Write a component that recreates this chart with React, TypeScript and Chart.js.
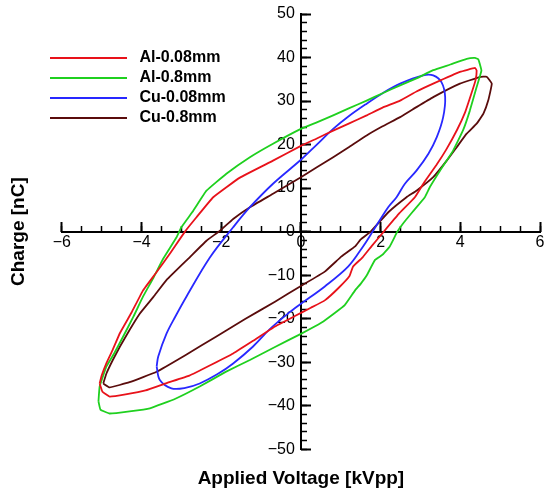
import { useEffect, useRef } from 'react';
import { Chart, registerables } from 'chart.js';

Chart.register(...registerables);
Chart.defaults.font.family = "'Liberation Sans', Arial, sans-serif";
Chart.defaults.color = '#000';

// series
const seriesNames = ['Al-0.08mm', 'Al-0.8mm', 'Cu-0.08mm', 'Cu-0.8mm'];
const seriesColors = ['#e8121a', '#1fd01f', '#2828ff', '#5a0c0c'];

// Al-0.08mm loop (kVpp, nC)
const al008X = [
  -5.05, -4.98, -4.8, -4.4, -3.9, -3.37, -2.8, -2.25, -1.7, -1.2, -0.65, -0.15, 0.25, 0.6, 0.95,
  1.22, 1.31, 1.55, 1.77, 2.08, 2.45, 2.86, 3.1, 3.4, 3.65, 3.92, 4.12, 4.27, 4.38, 4.41, 4.37,
  3.99, 3.32, 2.9, 2.49, 2.05, 1.65, 1.2, 0.81, 0.4, 0, -0.7, -1.53, -2.2, -2.62, -2.91, -3.29,
  -3.62, -3.96, -4.25, -4.54, -4.72, -4.88, -5.0, -5.05,
];
const al008Y = [
  -34.9, -36.8, -37.9, -37.4, -36.5, -34.8, -33.1, -30.6, -28.0, -25.1, -21.8, -19.4, -17.5, -15.8, -12.9,
  -10.2, -8.0, -5.9, -3.4, 0.0, 4.0, 7.9, 11.4, 15.3, 18.9, 23.4, 27.4, 31.5, 34.7, 37.0, 37.6,
  36.7, 34.0, 32.2, 30.1, 28.5, 26.7, 24.8, 23.2, 21.4, 19.7, 16.3, 12.4, 7.9, 3.3, 0.0, -5.1,
  -9.3, -13.5, -18.6, -23.3, -27.1, -30.2, -33.1, -34.9,
];

// Al-0.8mm loop
const al08X = [
  -5.08, -5.03, -4.8, -4.3, -3.79, -3.15, -2.54, -1.9, -1.28, -0.65, 0, 0.52, 0.85, 1.1, 1.36,
  1.5, 1.65, 1.86, 2.05, 2.23, 2.42, 2.55, 2.8, 3.11, 3.24, 3.49, 3.82, 4.07, 4.24, 4.41, 4.53,
  4.49, 4.45, 4.37, 4.16, 3.75, 3.32, 2.9, 2.49, 2.05, 1.65, 1.2, 0.81, 0.4, 0, -0.7, -1.28,
  -1.87, -2.37, -2.7, -3.0, -3.12, -3.46, -3.7, -3.96, -4.2, -4.46, -4.68, -4.88, -5.05, -5.08,
];
const al08Y = [
  -39.0, -40.9, -41.8, -41.3, -40.6, -38.4, -35.6, -32.3, -29.5, -26.5, -23.5, -20.9, -18.7, -16.9, -13.5,
  -12.0, -10.1, -6.5, -5.3, -3.4, 0.0, 1.7, 4.5, 7.9, 10.3, 14.0, 18.6, 23.3, 27.8, 33.2, 37.0,
  38.5, 39.6, 39.9, 39.7, 38.4, 37.1, 35.2, 33.6, 31.8, 30.1, 28.3, 26.7, 25.1, 23.6, 20.2, 17.1,
  13.3, 9.4, 4.8, 1.0, -1.3, -6.3, -10.6, -14.9, -19.5, -24.1, -27.9, -31.0, -35.6, -39.0,
];

// Cu-0.08mm loop
const cu008X = [
  -3.62, -3.54, -3.25, -2.9, -2.54, -2.1, -1.7, -1.2, -0.78, -0.32, 0, 0.6, 1.19, 1.56, 1.8,
  2.19, 2.4, 2.61, 2.9, 3.2, 3.41, 3.57, 3.62, 3.53, 3.32, 3.07, 2.49, 2.05, 1.65, 1.2, 0.81,
  0.4, 0, -0.7, -1.28, -1.7, -2.28, -2.87, -3.15, -3.37, -3.58, -3.62,
];
const cu008Y = [
  -31.0, -34.1, -36.0, -35.9, -34.9, -32.8, -30.3, -26.4, -22.4, -18.8, -16.6, -12.6, -8.0, -3.4, 0.0,
  5.6, 7.9, 11.0, 14.0, 17.9, 21.7, 26.3, 30.9, 34.3, 35.9, 35.9, 34.0, 31.8, 29.4, 26.5, 23.6,
  20.0, 16.5, 11.0, 5.6, 1.0, -5.9, -14.9, -19.5, -23.4, -28.7, -31.0,
];

// Cu-0.8mm loop
const cu08X = [
  -4.96, -4.8, -4.3, -3.62, -2.9, -2.12, -1.4, -0.65, 0, 0.6, 1.02, 1.36, 1.5, 1.75, 2.2,
  2.65, 2.9, 3.32, 3.66, 3.91, 4.16, 4.41, 4.58, 4.7, 4.79, 4.66, 4.49, 3.99, 3.32, 2.9, 2.49,
  2.05, 1.65, 1.2, 0.81, 0.4, 0, -0.7, -1.28, -1.7, -2.03, -2.37, -2.79, -3.37, -3.7, -4.04,
  -4.3, -4.54, -4.72, -4.88, -4.96,
];
const cu08Y = [
  -34.9, -35.8, -34.6, -32.2, -28.4, -24.1, -20.1, -16.1, -12.5, -9.2, -5.7, -3.4, -1.8, 0.0, 4.5,
  7.9, 9.4, 12.5, 16.3, 19.4, 22.5, 24.8, 27.1, 30.1, 34.0, 35.6, 35.5, 34.0, 30.9, 28.6, 26.3,
  24.2, 22.1, 19.4, 17.1, 14.8, 12.5, 8.7, 5.6, 2.9, 0.2, -2.1, -5.9, -11.1, -15.0, -18.8,
  -22.6, -26.4, -29.5, -32.6, -34.9,
];

// axes
const xMajorTicks = [-6, -4, -2, 0, 2, 4, 6];
const yMajorTicks = [-50, -40, -30, -20, -10, 0, 10, 20, 30, 40, 50];
const xMinorStep = 0.5;
const yMinorStep = 2;
const xTitle = 'Applied Voltage [kVpp]';
const yTitle = 'Charge [nC]';

const toPoints = (xs: number[], ys: number[]) => xs.map((x, i) => ({ x, y: ys[i] }));
const loops = [toPoints(al008X, al008Y), toPoints(al08X, al08Y), toPoints(cu008X, cu008Y), toPoints(cu08X, cu08Y)];

const minus = (v: number) => (v < 0 ? '\u2212' + Math.abs(v) : String(v));

// legend sits inside the plot, a little left of the frame
const legendPlacer = {
  id: 'legendPlacer',
  afterLayout(chart: any) {
    const legend = chart.legend;
    if (!legend) return;
    const w = legend.width;
    const h = legend.height;
    legend.left = 46;
    legend.top = 46;
    legend.right = legend.left + w;
    legend.bottom = legend.top + h;
  },
};

// tick-mark-only axis, stacked on the labelled one (ticks point into the plot)
const markAxis = (axis: 'x' | 'y', min: number, max: number, length: number, width: number, extra: object) => ({
  type: 'linear',
  axis,
  position: 'center',
  min,
  max,
  grid: { drawOnChartArea: false, drawTicks: true, tickLength: -length, tickWidth: width, tickColor: '#000' },
  border: { display: false },
  ticks: { display: false, autoSkip: false },
  ...extra,
});

export default function App() {
  const canvasRef = useRef<HTMLCanvasElement>(null);
  const chartRef = useRef<Chart | null>(null);

  useEffect(() => {
    if (!canvasRef.current) return;
    if (chartRef.current) chartRef.current.destroy();

    chartRef.current = new Chart(canvasRef.current, {
      type: 'scatter',
      data: {
        datasets: loops.map((pts, i) => ({
          label: seriesNames[i],
          data: pts,
          showLine: true,
          borderColor: seriesColors[i],
          backgroundColor: seriesColors[i],
          borderWidth: 1.8,
          pointRadius: 0,
          tension: i === 2 ? 0.35 : 0.1,
          fill: false,
        })),
      },
      options: {
        responsive: false,
        animation: false,
        layout: { padding: { left: 0, top: 14, right: 10, bottom: 0 } },
        scales: {
          x: {
            type: 'linear',
            position: 'center',
            min: -6,
            max: 6,
            afterBuildTicks: (scale: any) => { scale.ticks = xMajorTicks.map(value => ({ value })); },
            grid: { drawOnChartArea: false, drawTicks: false },
            border: { display: true, color: '#000', width: 2 },
            ticks: { autoSkip: false, maxRotation: 0, padding: 1, font: { size: 16 }, color: '#000', callback: (v: any) => minus(Number(v)) },
          },
          xMajor: markAxis('x', -6, 6, 10, 2, {
            afterBuildTicks: (scale: any) => { scale.ticks = xMajorTicks.map(value => ({ value })); },
          }),
          xMinor: markAxis('x', -6, 6, 6, 1.5, { ticks: { display: false, autoSkip: false, stepSize: xMinorStep } }),
          y: {
            type: 'linear',
            position: 'center',
            min: -50,
            max: 50,
            afterBuildTicks: (scale: any) => { scale.ticks = yMajorTicks.map(value => ({ value })); },
            grid: { drawOnChartArea: false, drawTicks: false },
            border: { display: true, color: '#000', width: 2 },
            ticks: { autoSkip: false, padding: 6, font: { size: 16, lineHeight: 1 }, color: '#000', callback: (v: any) => minus(Number(v)) },
          },
          yMajor: markAxis('y', -50, 50, 10, 2, {
            afterBuildTicks: (scale: any) => { scale.ticks = yMajorTicks.map(value => ({ value })); },
          }),
          yMinor: markAxis('y', -50, 50, 6, 1.5, { ticks: { display: false, autoSkip: false, stepSize: yMinorStep } }),
        },
        plugins: {
          legend: {
            position: 'chartArea',
            align: 'start',
            labels: {
              usePointStyle: true,
              pointStyle: 'line',
              pointStyleWidth: 77,
              padding: 4,
              color: '#000',
              font: { size: 16, weight: 'bold' },
              generateLabels: (chart: any) =>
                Chart.defaults.plugins.legend.labels.generateLabels(chart).map((item: any) => ({ ...item, text: ' ' + item.text })),
            },
          },
          title: {
            display: true,
            text: xTitle,
            position: 'bottom',
            fullSize: false,
            color: '#000',
            font: { size: 19, weight: 'bold' },
            padding: { top: 18, bottom: 6 },
          },
          subtitle: {
            display: true,
            text: yTitle,
            position: 'left',
            fullSize: false,
            color: '#000',
            font: { size: 19, weight: 'bold' },
            padding: { top: 7, bottom: 32 },
          },
          tooltip: { enabled: false },
        },
      },
      plugins: [legendPlacer],
    } as any);

    return () => {
      if (chartRef.current) {
        chartRef.current.destroy();
        chartRef.current = null;
      }
    };
  }, []);

  return (
    <div style={{ position: 'absolute', left: 0, top: 0, width: 550, height: 496, background: '#fff' }}>
      <canvas ref={canvasRef} width={550} height={496} style={{ display: 'block' }} />
    </div>
  );
}
